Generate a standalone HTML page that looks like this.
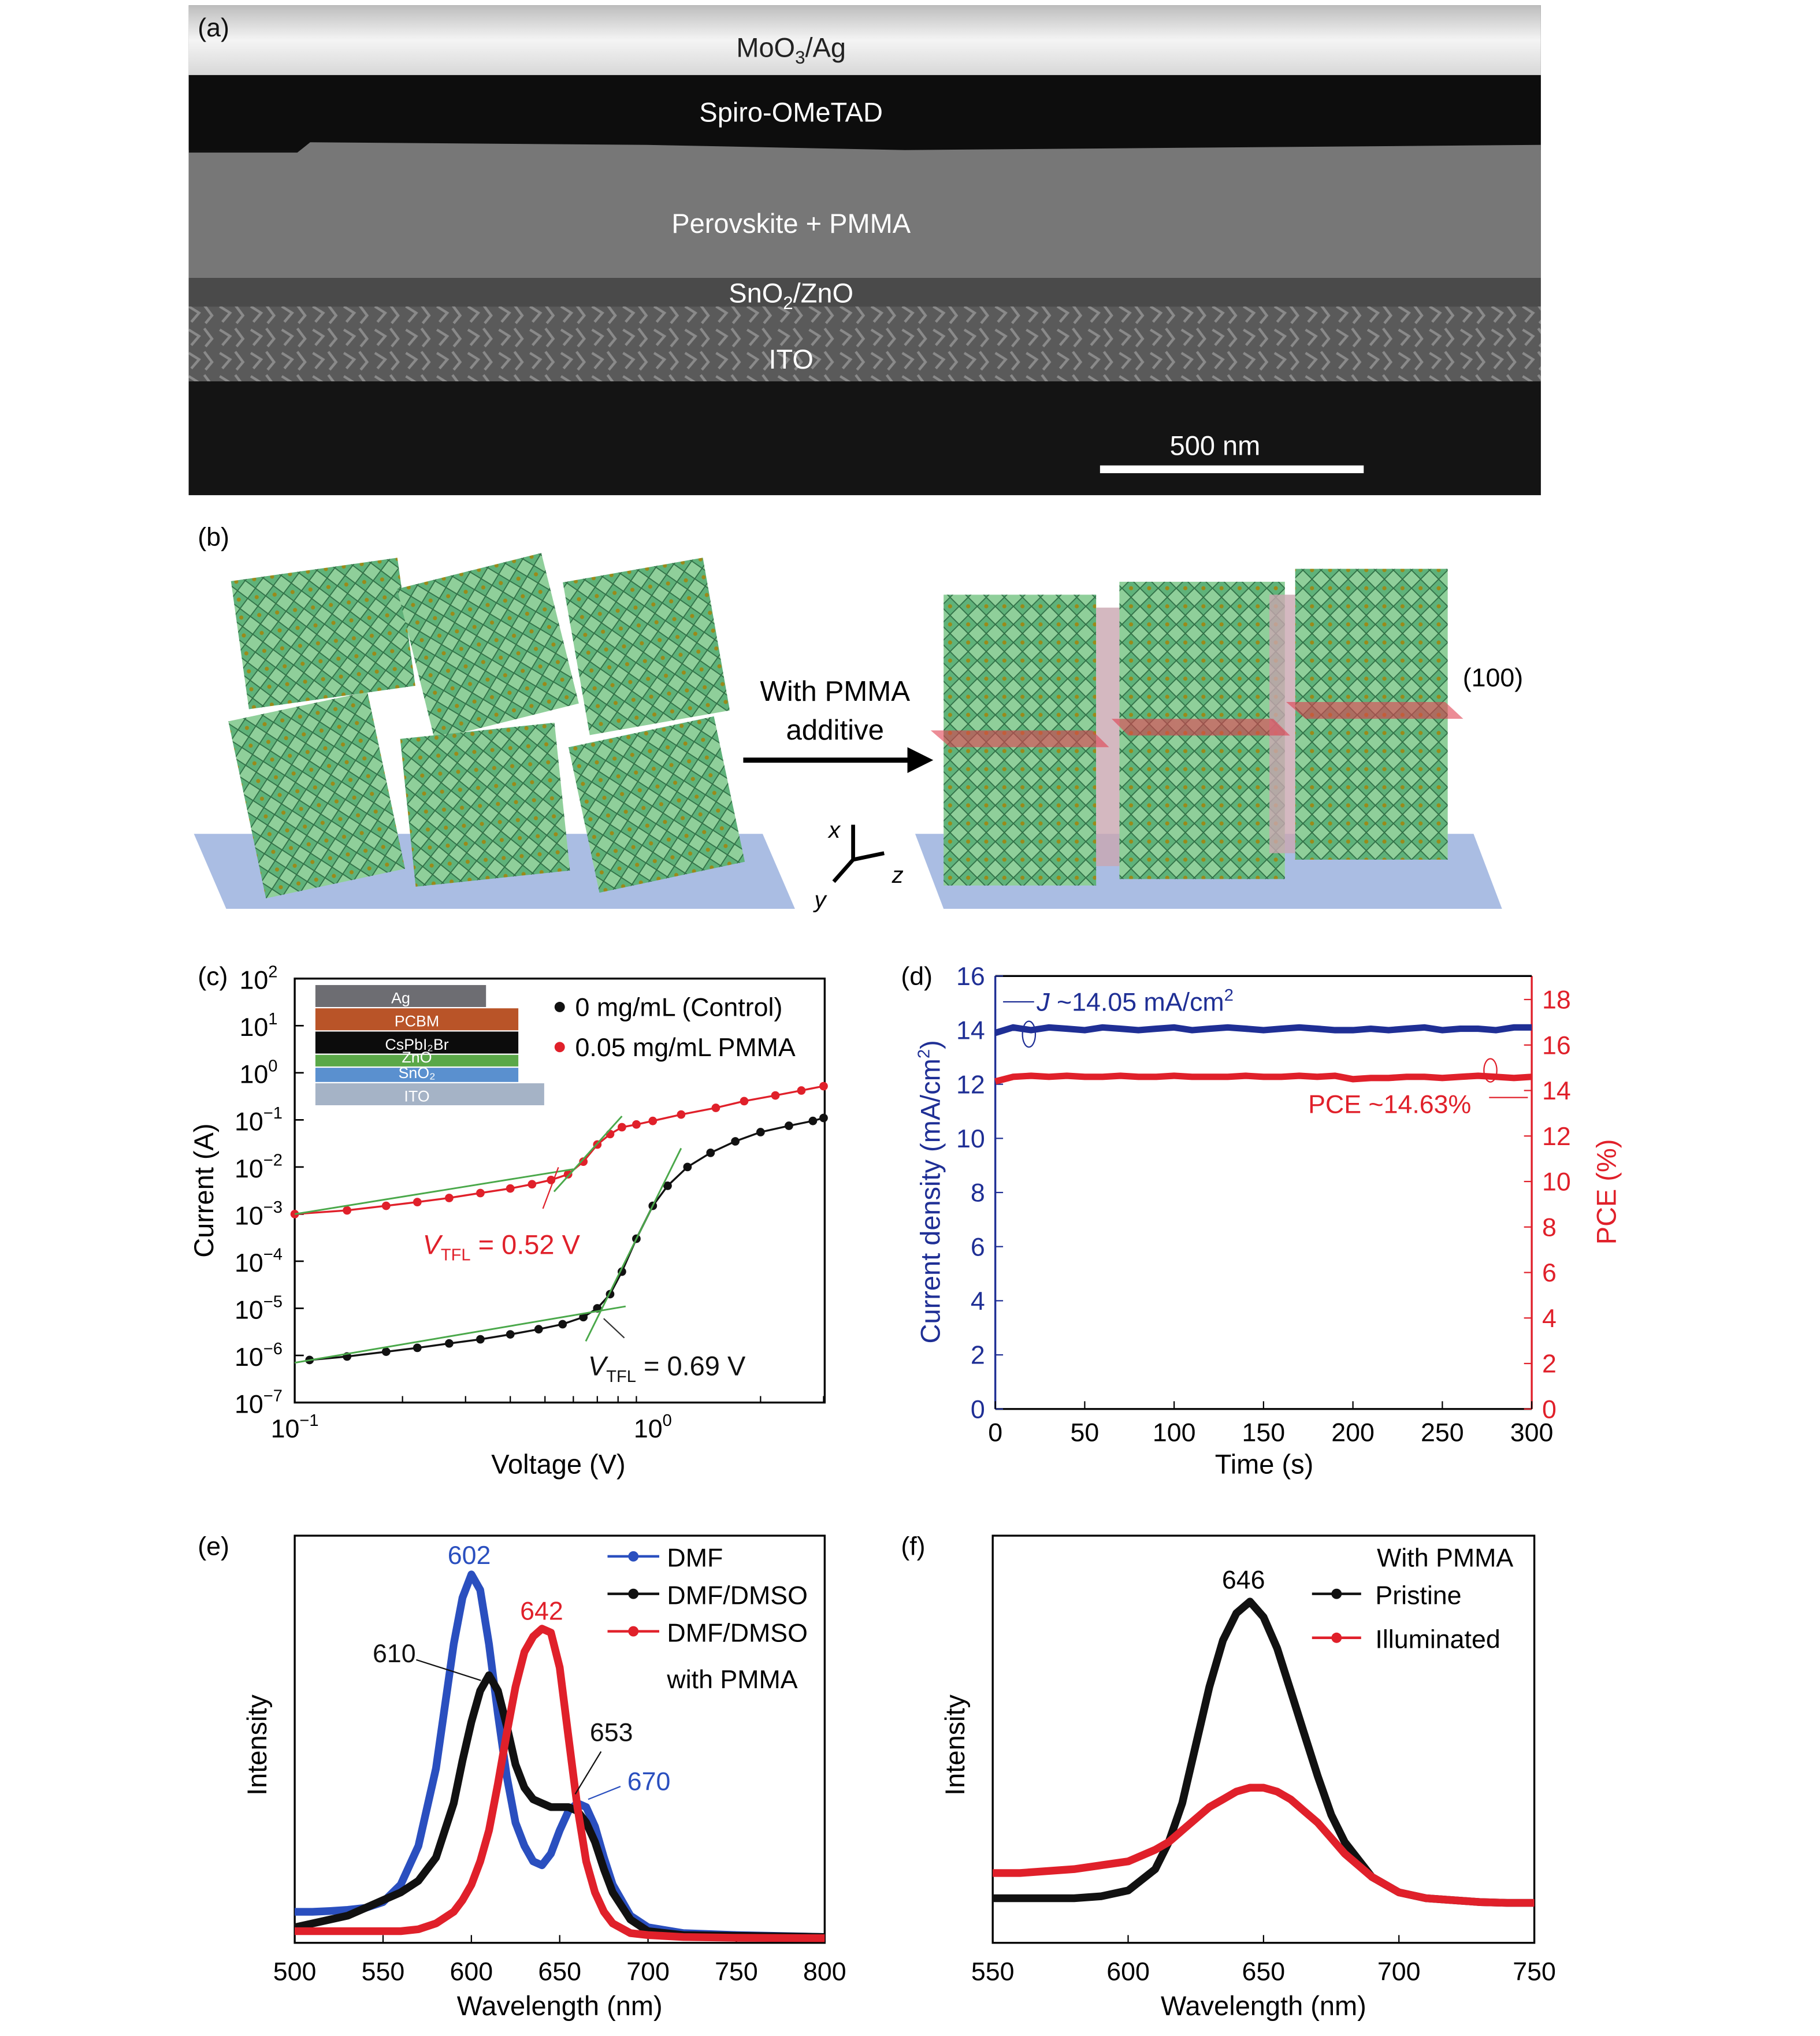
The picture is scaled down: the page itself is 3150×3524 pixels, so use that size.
<!DOCTYPE html>
<html><head><meta charset="utf-8">
<style>
html,body{margin:0;padding:0;background:#fff;}
svg{display:block;font-family:"Liberation Sans","DejaVu Sans",sans-serif;}
</style></head>
<body>
<svg id="fig" width="3150" height="3524" viewBox="0 0 1408 1575" xmlns="http://www.w3.org/2000/svg">
<defs>
<linearGradient id="topg" x1="0" y1="0" x2="0" y2="1">
<stop offset="0" stop-color="#bdbdbd"/><stop offset="0.5" stop-color="#f4f4f4"/><stop offset="1" stop-color="#d8d8d8"/>
</linearGradient>
<pattern id="cryst" width="14" height="14" patternUnits="userSpaceOnUse">
<rect width="14" height="14" fill="#8fcf9a"/>
<polygon points="7,0 14,7 7,14 0,7" fill="#5fb27a" stroke="#2f6e45" stroke-width="0.8"/>
<circle cx="7" cy="7" r="1.6" fill="#9a8a1a"/>
</pattern>
<pattern id="ito" width="24" height="18" patternUnits="userSpaceOnUse">
<rect width="24" height="18" fill="#5a5a5a"/>
<path d="M2 3 L10 8 L4 15 M14 2 L20 10 L15 16" stroke="#8a8a8a" stroke-width="2" fill="none"/>
</pattern>
</defs>

<!-- Panel a -->
<g>
<rect x="146" y="4" width="1046" height="379" fill="#111"/>
<rect x="146" y="4" width="1046" height="54" fill="url(#topg)"/>
<rect x="146" y="58" width="1046" height="58" fill="#0d0d0d"/>
<path d="M146 118 L230 118 L240 110 L500 112 L700 116 L1192 112 L1192 215 L146 215 Z" fill="#777"/>
<rect x="146" y="215" width="1046" height="22" fill="#4a4a4a"/>
<rect x="146" y="237" width="1046" height="58" fill="url(#ito)"/>
<rect x="146" y="295" width="1046" height="88" fill="#141414"/>
<rect x="851" y="360" width="204" height="6" fill="#fff"/>
<g fill="#fff" font-size="21" text-anchor="middle">
<text x="612" y="44" fill="#222">MoO<tspan font-size="14" dy="5">3</tspan><tspan dy="-5">/Ag</tspan></text>
<text x="612" y="94">Spiro-OMeTAD</text>
<text x="612" y="180">Perovskite + PMMA</text>
<text x="612" y="234">SnO<tspan font-size="14" dy="5">2</tspan><tspan dy="-5">/ZnO</tspan></text>
<text x="612" y="285">ITO</text>
<text x="940" y="352">500 nm</text>
</g>
<text x="153" y="28" font-size="20" fill="#111">(a)</text>
</g>

<!-- Panel b -->
<g>
<text x="153" y="422" font-size="20">(b)</text>
<polygon points="150,645 590,645 615,703 175,703" fill="#aabde3"/>
<polygon points="708,645 1140,645 1162,703 730,703" fill="#aabde3"/>
<g fill="url(#cryst)">
<rect x="190" y="545" width="110" height="140" transform="rotate(-12 245 615)"/>
<rect x="185" y="440" width="130" height="100" transform="rotate(-8 250 490)"/>
<rect x="320" y="440" width="115" height="120" transform="rotate(-14 377 500)"/>
<rect x="315" y="565" width="120" height="115" transform="rotate(-6 375 620)"/>
<rect x="445" y="440" width="110" height="120" transform="rotate(-10 500 500)"/>
<rect x="450" y="565" width="115" height="115" transform="rotate(-12 507 620)"/>
</g>
<g fill="url(#cryst)">
<rect x="730" y="460" width="118" height="225"/>
<rect x="866" y="450" width="128" height="230"/>
<rect x="1002" y="440" width="118" height="225"/>
</g>
<g fill="#c9a6b0" opacity="0.8">
<rect x="848" y="470" width="18" height="200"/>
<rect x="982" y="460" width="20" height="200"/>
</g>
<g fill="#e04050" opacity="0.6">
<polygon points="720,565 845,565 858,578 735,578"/>
<polygon points="860,556 985,556 998,569 873,569"/>
<polygon points="995,543 1118,543 1132,556 1010,556"/>
</g>
<line x1="575" y1="588" x2="705" y2="588" stroke="#000" stroke-width="4"/>
<polygon points="722,588 702,578 702,598" fill="#000"/>
<text x="646" y="542" font-size="22" text-anchor="middle">With PMMA</text>
<text x="646" y="572" font-size="22" text-anchor="middle">additive</text>
<text x="1155" y="531" font-size="20" text-anchor="middle">(100)</text>
<g stroke="#000" stroke-width="3">
<line x1="660" y1="665" x2="660" y2="638"/><line x1="660" y1="665" x2="684" y2="660"/><line x1="660" y1="665" x2="645" y2="682"/>
</g>
<g font-size="18" font-style="italic"><text x="641" y="648">x</text><text x="690" y="683">z</text><text x="630" y="702">y</text></g>
</g>

<g id="pc"></g>
<g id="pd"></g>
<g id="pe"></g>
<g id="pf"></g>
</svg>

<script>
// ---- Panel c data ----
const cBlackV = [0.11,0.14,0.18,0.22,0.27,0.33,0.4,0.48,0.56,0.64,0.7,0.76,0.82,0.9,1.0,1.1,1.25,1.45,1.7,2.0,2.4,2.8,3.0];
const cBlackI = [8e-7,9.5e-7,1.2e-6,1.45e-6,1.8e-6,2.2e-6,2.8e-6,3.6e-6,4.6e-6,6.5e-6,1e-5,2e-5,6e-5,3e-4,1.5e-3,4e-3,1e-2,2e-2,3.5e-2,5.5e-2,7.5e-2,9.5e-2,0.11];
const cRedV = [0.1,0.14,0.18,0.22,0.27,0.33,0.4,0.46,0.52,0.58,0.64,0.7,0.76,0.82,0.9,1.0,1.2,1.5,1.8,2.2,2.6,3.0];
const cRedI = [1e-3,1.2e-3,1.5e-3,1.8e-3,2.2e-3,2.8e-3,3.5e-3,4.3e-3,5.3e-3,7e-3,1.3e-2,3e-2,5e-2,7e-2,8e-2,9.5e-2,1.3e-1,1.8e-1,2.5e-1,3.3e-1,4.2e-1,5.2e-1];
const cYExps = [2,1,0,-1,-2,-3,-4,-5,-6,-7];
// ---- Panel d data ----
const dTime = [0,10,20,30,40,50,60,70,80,90,100,110,120,130,140,150,160,170,180,190,200,210,220,230,240,250,260,270,280,290,300];
const dJ = [13.9,14.1,14.0,14.1,14.05,14.0,14.1,14.05,14.0,14.05,14.1,14.0,14.05,14.1,14.05,14.0,14.05,14.1,14.05,14.0,14.0,14.05,14.0,14.05,14.1,14.0,14.05,14.05,14.0,14.1,14.1];
const dPCE = [14.4,14.6,14.65,14.6,14.65,14.6,14.6,14.65,14.6,14.6,14.65,14.6,14.6,14.6,14.65,14.6,14.6,14.65,14.6,14.65,14.5,14.55,14.55,14.6,14.6,14.55,14.6,14.65,14.6,14.55,14.6];
const dLeftTicks = [0,2,4,6,8,10,12,14,16];
const dRightTicks = [0,2,4,6,8,10,12,14,16,18];
const dXTicks = [0,50,100,150,200,250,300];
// ---- Panel e data ----
const eWl = [500,510,520,530,540,550,560,570,580,590,595,600,605,610,615,620,625,630,635,640,645,650,655,660,665,670,675,680,690,700,720,750,800];
const eDMF = [0.07,0.07,0.072,0.075,0.08,0.095,0.14,0.24,0.44,0.76,0.88,0.94,0.9,0.76,0.58,0.42,0.3,0.24,0.2,0.19,0.22,0.28,0.33,0.35,0.34,0.29,0.21,0.14,0.06,0.03,0.015,0.01,0.005];
const eDMSO = [0.03,0.04,0.05,0.06,0.08,0.1,0.12,0.15,0.21,0.35,0.46,0.56,0.64,0.68,0.64,0.55,0.45,0.39,0.36,0.35,0.34,0.34,0.34,0.33,0.3,0.25,0.18,0.12,0.05,0.02,0.01,0.008,0.005];
const eRed = [0.02,0.02,0.02,0.02,0.02,0.02,0.02,0.025,0.04,0.07,0.1,0.14,0.2,0.28,0.4,0.53,0.65,0.74,0.78,0.8,0.79,0.7,0.52,0.34,0.2,0.12,0.07,0.04,0.015,0.01,0.005,0.003,0.002];
const eXTicks = [500,550,600,650,700,750,800];
// ---- Panel f data ----
const fWl = [550,560,570,580,590,600,610,615,620,625,630,635,640,645,650,655,660,665,670,675,680,690,700,710,720,730,740,750];
const fPristine = [0.105,0.105,0.105,0.105,0.11,0.125,0.18,0.25,0.35,0.5,0.65,0.77,0.84,0.87,0.83,0.75,0.64,0.53,0.42,0.32,0.25,0.16,0.12,0.105,0.1,0.095,0.093,0.093];
const fIllum = [0.17,0.17,0.175,0.18,0.19,0.2,0.23,0.25,0.28,0.31,0.34,0.36,0.38,0.39,0.39,0.38,0.36,0.33,0.3,0.26,0.22,0.16,0.12,0.105,0.1,0.095,0.093,0.093];
const fXTicks = [550,600,650,700,750];

const NS = 'http://www.w3.org/2000/svg';
function mk(parent, tag, attrs, text){
  const el = document.createElementNS(NS, tag);
  for (const k in attrs) el.setAttribute(k, attrs[k]);
  if (text !== undefined) el.textContent = text;
  parent.appendChild(el);
  return el;
}
function poly(pts){ return pts.map((p,i)=>(i?'L':'M')+p[0].toFixed(1)+' '+p[1].toFixed(1)).join(' '); }

// ===== Panel c =====
(function(){
  const g = document.getElementById('pc');
  const X0=228, X1=638, Y0=757, Y1=1085;
  const xs = v => X0 + (Math.log10(v)+1)*277;
  const ys = i => Y0 + (2-Math.log10(i))*(Y1-Y0)/9;
  let t = mk(g,'text',{x:153,y:762,'font-size':20});
  t.textContent='(c)';
  
  
  const layers=[['Ag','#6d6d72',244,762,132,17],['PCBM','#b95428',244,780,157,17],['CsPbI₂Br','#0c0c0c',244,798,157,17],['ZnO','#5aa848',244,816,157,9],['SnO₂','#5a90cf',244,826,157,11],['ITO','#a5b3c6',244,838,177,17]];
  layers.forEach(L=>{
    const r = mk(g,'rect',{x:L[2],y:L[3],width:L[4],height:L[5],fill:L[1]});
    
    
    mk(g,'text',{x:L[2]+L[4]/2 - (L[0]==='ITO'?10:0),y:L[3]+L[5]-3,'font-size':12,fill:'#fff','text-anchor':'middle'},L[0]);
  });
  const box = mk(g,'rect',{x:X0,y:Y0,width:X1-X0,height:Y1-Y0,fill:'none',stroke:'#000','stroke-width':1.5});
  
  
  cYExps.forEach(e=>{
    const y = ys(Math.pow(10,e));
    mk(g,'line',{x1:X0,y1:y,x2:X0+7,y2:y,stroke:'#000','stroke-width':1.2});
    const tx = mk(g,'text',{x:X0-28,y:y+8,'font-size':20,'text-anchor':'middle'});
    
    
    tx.innerHTML = '10<tspan font-size="13" dy="-9">'+(e<0?'−'+(-e):e)+'</tspan>';
  });
  [0.1,1].forEach(v=>{
    const x=xs(v);
    const tx = mk(g,'text',{x:x,y:1112,'font-size':20,'text-anchor':'middle'});
    
    
    tx.innerHTML = '10<tspan font-size="13" dy="-9">'+(v<1?'−1':'0')+'</tspan>';
  });
  for(let d=-1; d<=0; d++) for(let k=2;k<=9;k++){ const v=k*Math.pow(10,d); if(v>3.03) continue; const x=xs(v); mk(g,'line',{x1:x,y1:Y1,x2:x,y2:Y1-5,stroke:'#000'}); }
  const yl = mk(g,'text',{x:165,y:921,'font-size':21,'text-anchor':'middle',transform:'rotate(-90 165 921)'},'Current (A)');
  
  
  const xl = mk(g,'text',{x:432,y:1140,'font-size':21,'text-anchor':'middle'},'Voltage (V)');
  
  
  [[cBlackV,cBlackI,'#111','series-control'],[cRedV,cRedI,'#e0202a','series-pmma']].forEach(S=>{
    const pts = S[0].map((v,i)=>[xs(v),ys(S[1][i])]);
    const p = mk(g,'path',{d:poly(pts),fill:'none',stroke:S[2],'stroke-width':1.5});
    
    
    pts.forEach(q=>{
      const c = mk(g,'circle',{cx:q[0],cy:q[1],r:3.3,fill:S[2]});
      
      
    });
  });
  const fits=[[0.1,1e-3,0.6,9e-3],[0.53,3e-3,0.82,0.12],[0.1,7e-7,0.84,1.1e-5],[0.65,2e-6,1.2,2.5e-2]];
  fits.forEach(f=>mk(g,'line',{x1:xs(f[0]),y1:ys(f[1]),x2:xs(f[2]),y2:ys(f[3]),stroke:'#4aa84a','stroke-width':1.3}));
  mk(g,'line',{x1:420,y1:935,x2:432,y2:903,stroke:'#e0202a','stroke-width':1});
  mk(g,'line',{x1:483,y1:1035,x2:467,y2:1020,stroke:'#333','stroke-width':1});
  const a1 = mk(g,'text',{x:327,y:970,'font-size':21,fill:'#e0202a'});
  a1.innerHTML='<tspan font-style="italic">V</tspan><tspan font-size="13" dy="5">TFL</tspan><tspan dy="-5"> = 0.52 V</tspan>';
  
  
  const a2 = mk(g,'text',{x:455,y:1064,'font-size':21,fill:'#111'});
  a2.innerHTML='<tspan font-style="italic">V</tspan><tspan font-size="13" dy="5">TFL</tspan><tspan dy="-5"> = 0.69 V</tspan>';
  
  
  const l1 = mk(g,'circle',{cx:433,cy:779,r:4,fill:'#111'});
  
  
  const lt1 = mk(g,'text',{x:445,y:786,'font-size':20},'0 mg/mL (Control)');
  
  
  const l2 = mk(g,'circle',{cx:433,cy:810,r:4,fill:'#e0202a'});
  
  
  const lt2 = mk(g,'text',{x:445,y:817,'font-size':20},'0.05 mg/mL PMMA');
  
  
})();

// ===== Panel d =====
(function(){
  const g = document.getElementById('pd');
  const X0=770, X1=1185, Y0=755, Y1=1090;
  const BL='#1f2f95', RD='#e0202a';
  const xs = t => X0 + t*(X1-X0)/300;
  const yl = v => Y1 - v*(Y1-Y0)/16;
  const yr = v => Y1 - v*17.6;
  const lab = mk(g,'text',{x:697,y:762,'font-size':20},'(d)');
  
  
  mk(g,'line',{x1:X0,y1:Y0,x2:X0,y2:Y1,stroke:BL,'stroke-width':1.5});
  mk(g,'line',{x1:X1,y1:Y0,x2:X1,y2:Y1,stroke:RD,'stroke-width':1.5});
  mk(g,'line',{x1:X0,y1:Y0,x2:X1,y2:Y0,stroke:'#000','stroke-width':1.5});
  mk(g,'line',{x1:X0,y1:Y1,x2:X1,y2:Y1,stroke:'#000','stroke-width':1.5});
  dLeftTicks.forEach(v=>{ const y=yl(v); mk(g,'line',{x1:X0,y1:y,x2:X0+6,y2:y,stroke:BL});
    const tx=mk(g,'text',{x:X0-8,y:y+7,'font-size':20,fill:BL,'text-anchor':'end'},String(v));
    
     });
  dRightTicks.forEach(v=>{ const y=yr(v); mk(g,'line',{x1:X1,y1:y,x2:X1-6,y2:y,stroke:RD});
    const tx=mk(g,'text',{x:X1+8,y:y+7,'font-size':20,fill:RD},String(v));
    
     });
  dXTicks.forEach(v=>{ const x=xs(v); mk(g,'line',{x1:x,y1:Y1,x2:x,y2:Y1-6,stroke:'#000'});
    const tx=mk(g,'text',{x:x,y:1115,'font-size':20,'text-anchor':'middle'},String(v));
    
     });
  const p1 = mk(g,'path',{d:poly(dTime.map((t,i)=>[xs(t),yl(dJ[i])])),fill:'none',stroke:BL,'stroke-width':5});
  
  
  const p2 = mk(g,'path',{d:poly(dTime.map((t,i)=>[xs(t),yr(dPCE[i])])),fill:'none',stroke:RD,'stroke-width':5});
  
  
  const t1 = mk(g,'text',{x:802,y:782,'font-size':20,fill:BL});
  t1.innerHTML='<tspan font-style="italic">J</tspan> ~14.05 mA/cm<tspan font-size="13" dy="-8">2</tspan>';
  
  
  mk(g,'line',{x1:800,y1:775,x2:776,y2:775,stroke:BL});
  mk(g,'ellipse',{cx:796,cy:800,rx:5,ry:10,fill:'none',stroke:BL});
  const t2 = mk(g,'text',{x:1012,y:861,'font-size':20,fill:RD},'PCE ~14.63%');
  
  
  mk(g,'ellipse',{cx:1153,cy:828,rx:5,ry:9,fill:'none',stroke:RD});
  mk(g,'line',{x1:1152,y1:849,x2:1182,y2:849,stroke:RD});
  const a = mk(g,'text',{x:727,y:922,'font-size':21,fill:BL,'text-anchor':'middle',transform:'rotate(-90 727 922)'});
  a.innerHTML='Current density (mA/cm<tspan font-size="13" dy="-8">2</tspan><tspan dy="8">)</tspan>';
  
  
  const b = mk(g,'text',{x:1250,y:922,'font-size':21,fill:RD,'text-anchor':'middle',transform:'rotate(-90 1250 922)'},'PCE (%)');
  
  
  const c = mk(g,'text',{x:978,y:1140,'font-size':21,'text-anchor':'middle'},'Time (s)');
  
  
})();

// ===== Spectrum panels =====
function specPanel(id, label, lx, X0, X1, wmin, wmax, ticks, series){
  const g = document.getElementById(id);
  const Y0=1188, Y1=1503;
  const xs = w => X0 + (w-wmin)*(X1-X0)/(wmax-wmin);
  const ys = v => 1500 - v*300;
  const l = mk(g,'text',{x:lx,y:1203,'font-size':20},label);
  
  
  const box = mk(g,'rect',{x:X0,y:Y0,width:X1-X0,height:Y1-Y0,fill:'none',stroke:'#000','stroke-width':1.5});
  
  
  ticks.forEach(v=>{ const x=xs(v); mk(g,'line',{x1:x,y1:Y1,x2:x,y2:Y1-6,stroke:'#000'});
    const tx=mk(g,'text',{x:x,y:1532,'font-size':20,'text-anchor':'middle'},String(v));
    
     });
  const yt = mk(g,'text',{x:X0-22,y:1350,'font-size':21,'text-anchor':'middle',transform:'rotate(-90 '+(X0-22)+' 1350)'},'Intensity');
  
  
  const xt = mk(g,'text',{x:(X0+X1)/2,y:1559,'font-size':21,'text-anchor':'middle'},'Wavelength (nm)');
  
  
  series.forEach(S=>{
    const p = mk(g,'path',{d:poly(S.w.map((w,i)=>[xs(w),ys(S.v[i])])),fill:'none',stroke:S.c,'stroke-width':6,'stroke-linejoin':'round'});
    
    
  });
  return g;
}
const ge = specPanel('pe','(e)',153,228,638,500,800,eXTicks,[
  {w:eWl,v:eDMF,c:'#2a4fbf',n:'series-dmf'},{w:eWl,v:eDMSO,c:'#111',n:'series-dmf-dmso'},{w:eWl,v:eRed,c:'#e0202a',n:'series-dmf-dmso-pmma'}]);
[['602',363,1210,'#2a4fbf'],['642',419,1253,'#e0202a'],['610',305,1286,'#111'],['653',473,1347,'#111'],['670',502,1385,'#2a4fbf']].forEach(a=>{
  const t = mk(ge,'text',{x:a[1],y:a[2],'font-size':20,fill:a[3],'text-anchor':'middle'},a[0]);
  
  
});
mk(ge,'line',{x1:322,y1:1284,x2:372,y2:1300,stroke:'#111'});
mk(ge,'line',{x1:465,y1:1355,x2:445,y2:1388,stroke:'#111'});
mk(ge,'line',{x1:480,y1:1382,x2:455,y2:1392,stroke:'#2a4fbf'});
[['DMF','#2a4fbf',1211],['DMF/DMSO','#111',1240],['DMF/DMSO','#e0202a',1269]].forEach(L=>{
  mk(ge,'line',{x1:470,y1:L[2]-7,x2:510,y2:L[2]-7,stroke:L[1],'stroke-width':2});
  mk(ge,'circle',{cx:490,cy:L[2]-7,r:4,fill:L[1]});
  const t = mk(ge,'text',{x:516,y:L[2]+1,'font-size':20},L[0]);
  
  
});
mk(ge,'text',{x:516,y:1306,'font-size':20},'with PMMA');

const gf = specPanel('pf','(f)',697,768,1187,550,750,fXTicks,[
  {w:fWl,v:fPristine,c:'#111',n:'series-pristine'},{w:fWl,v:fIllum,c:'#e0202a',n:'series-illuminated'}]);
const pk = mk(gf,'text',{x:962,y:1229,'font-size':20,'text-anchor':'middle'},'646');


mk(gf,'text',{x:1118,y:1212,'font-size':20,'text-anchor':'middle'},'With PMMA');
[['Pristine','#111',1240],['Illuminated','#e0202a',1274]].forEach(L=>{
  mk(gf,'line',{x1:1015,y1:L[2]-7,x2:1053,y2:L[2]-7,stroke:L[1],'stroke-width':2});
  mk(gf,'circle',{cx:1034,cy:L[2]-7,r:4,fill:L[1]});
  const t = mk(gf,'text',{x:1064,y:L[2]+1,'font-size':20},L[0]);
  
  
});
</script>
</body></html>
